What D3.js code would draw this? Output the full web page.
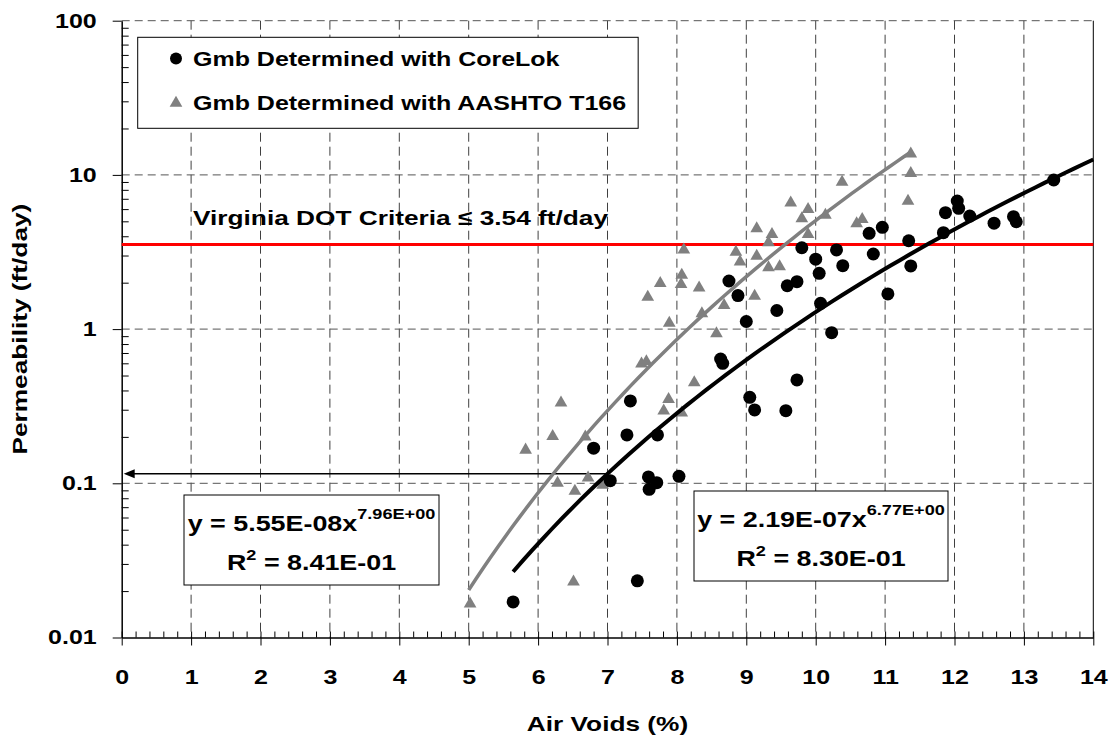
<!DOCTYPE html>
<html>
<head>
<meta charset="utf-8">
<script src="https://cdn.jsdelivr.net/npm/d3@7"></script>
<style>
  body { margin: 0; background: #fff; }
  svg { display: block; font-family: "Liberation Sans", Arial, sans-serif; font-weight: bold; }
</style>
</head>
<body>
<div id="chart"></div>
<script>
// CoreLok series (air voids %, permeability ft/day)
const corelokVoids = [5.64, 6.80, 7.04, 7.28, 7.33, 7.43, 7.59, 7.60, 7.71, 7.72, 8.03,
  8.63, 8.66, 8.75, 8.88, 9.00, 9.05, 9.12, 9.44, 9.57, 9.59, 9.73, 9.73, 9.80, 10.00,
  10.05, 10.07, 10.23, 10.30, 10.39, 10.77, 10.83, 10.96, 11.04, 11.34, 11.37, 11.84,
  11.87, 12.04, 12.06, 12.22, 12.57, 12.85, 12.89, 13.43];
const corelokPerm = [0.017, 0.169, 0.104, 0.206, 0.342, 0.0233, 0.110, 0.0914, 0.101, 0.206, 0.111,
  0.64, 0.60, 2.05, 1.65, 1.12, 0.361, 0.299, 1.32, 0.296, 1.91, 2.03, 0.468, 3.37, 2.84,
  2.30, 1.47, 0.948, 3.26, 2.58, 4.18, 3.07, 4.57, 1.69, 3.74, 2.57, 4.22,
  5.69, 6.77, 6.07, 5.41, 4.86, 5.36, 4.97, 9.27];

// AASHTO T166 series
const t166Voids = [5.02, 5.82, 6.21, 6.33, 6.28, 6.51, 6.53, 6.68, 6.72, 6.93, 7.49, 7.56,
  7.58, 7.76, 7.81, 7.88, 7.89, 8.06, 8.07, 8.07, 8.10, 8.25, 8.32, 8.36, 8.57, 8.68,
  8.85, 8.91, 9.12, 9.15, 9.15, 9.32, 9.32, 9.37, 9.48, 9.64, 9.80, 9.89, 9.89, 10.14,
  10.38, 10.59, 10.67, 11.33, 11.37, 11.37];
const t166Perm = [0.0168, 0.167, 0.205, 0.338, 0.102, 0.0233, 0.0905, 0.203, 0.110, 0.099, 0.605, 0.624,
  1.64, 2.01, 0.300, 0.356, 1.11, 1.98, 2.27, 0.291, 3.31, 0.456, 1.88, 1.28, 0.948, 1.45,
  3.21, 2.77, 1.66, 3.02, 4.55, 2.54, 3.69, 4.18, 2.58, 6.70, 5.28, 6.07, 4.18, 5.57,
  9.13, 4.90, 5.23, 6.87, 10.4, 13.9];

// power trendlines y = a * x^b, drawn over the range of each series
const corelokFit = { a: 2.19e-7, b: 6.77, from: 5.64, to: 14 };
const t166Fit = { a: 5.55e-8, b: 7.96, from: 5.0, to: 11.37 };

const criterion = 3.54;
const arrowVoids = 7;

const xTicks = d3.range(0, 15);
const yTicks = [0.01, 0.1, 1, 10, 100];
const yTickLabels = ["0.01", "0.1", "1", "10", "100"];

const S = 1.25; // horizontal text stretch of the original rendering
const W = 1114, H = 737;
const plot = { left: 121.7, right: 1093.3, top: 20.7, bottom: 637.5 };

const svg = d3.select("#chart").append("svg").attr("width", W).attr("height", H);
svg.append("rect").attr("width", W).attr("height", H).attr("fill", "#fff");

const x = d3.scaleLinear().domain([0, 14]).range([plot.left, plot.right]);
const y = d3.scaleLog().domain([0.01, 100]).range([plot.bottom, plot.top]);

function stext(parent, px, py, str, size, anchor) {
  const g = parent.append("g").attr("transform", `translate(${px},${py}) scale(${S},1)`);
  return g.append("text")
    .attr("text-anchor", anchor || "start")
    .style("font-size", size + "px")
    .text(str);
}

// gridlines
const grid = svg.append("g").attr("stroke", "#404040").attr("stroke-width", 1);
grid.selectAll(".vg")
  .data(xTicks.filter((d) => d > 0 && d < 14))
  .join("line")
  .attr("x1", (d) => x(d)).attr("x2", (d) => x(d))
  .attr("y1", plot.top).attr("y2", plot.bottom)
  .attr("stroke-dasharray", "9,5");
grid.selectAll(".hg")
  .data(yTicks.filter((d) => d > 0.01))
  .join("line")
  .attr("x1", plot.left).attr("x2", plot.right)
  .attr("y1", (d) => y(d)).attr("y2", (d) => y(d))
  .attr("stroke", "#555")
  .attr("stroke-dasharray", "8,5");
// right edge of plot area
svg.append("line")
  .attr("x1", plot.right).attr("x2", plot.right)
  .attr("y1", plot.top).attr("y2", plot.bottom)
  .attr("stroke", "#000");

// axes
const minorX = d3.range(0, 14.01, 0.2).filter((d) => Math.abs(d - Math.round(d)) > 0.01);
const minorY = [];
[0.01, 0.1, 1, 10].forEach((dec) => {
  for (let k = 2; k <= 9; k++) minorY.push(dec * k);
});

svg.append("g")
  .attr("transform", `translate(0,${plot.bottom})`)
  .call(d3.axisBottom(x).tickValues(minorX).tickSize(-6).tickFormat(""))
  .call((g) => g.select(".domain").remove());
const xAxis = svg.append("g")
  .attr("transform", `translate(0,${plot.bottom})`)
  .call(d3.axisBottom(x).tickValues(xTicks).tickSizeInner(8).tickSizeOuter(0).tickPadding(24));
xAxis.selectAll("line").attr("y1", -6);
xAxis.select(".domain").attr("stroke-width", 1.5);
xAxis.selectAll("text")
  .attr("transform", `scale(${S},1)`)
  .style("font-size", "20px")
  .attr("fill", "#000");

svg.append("g")
  .attr("transform", `translate(${plot.left},0)`)
  .call(d3.axisLeft(y).tickValues(minorY).tickSize(-7).tickFormat(""))
  .call((g) => g.select(".domain").remove());
const yAxis = svg.append("g")
  .attr("transform", `translate(${plot.left},0)`)
  .call(d3.axisLeft(y).tickValues(yTicks).tickSizeInner(9).tickSizeOuter(0)
    .tickFormat((d, i) => yTickLabels[i]));
yAxis.select(".domain").attr("stroke-width", 1.5);
yAxis.selectAll("text")
  .attr("x", -25 / S)
  .attr("transform", `scale(${S},1)`)
  .style("font-size", "20px")
  .attr("fill", "#000");
svg.selectAll(".tick text").style("font-family", "'Liberation Sans', Arial, sans-serif").style("font-weight", "bold");

// axis titles
stext(svg, (plot.left + plot.right) / 2, 731, "Air Voids (%)", 21, "middle");
svg.append("g")
  .attr("transform", `translate(27,${(plot.top + plot.bottom) / 2}) rotate(-90) scale(${S},1)`)
  .append("text")
  .attr("text-anchor", "middle")
  .style("font-size", "21px")
  .text("Permeability (ft/day)");

// criterion line
svg.append("line")
  .attr("x1", plot.left).attr("x2", plot.right)
  .attr("y1", y(criterion)).attr("y2", y(criterion))
  .attr("stroke", "#ff0000").attr("stroke-width", 3);
stext(svg, 193, y(criterion) - 19, "Virginia DOT Criteria \u2264 3.54 ft/day", 21);

// arrow from CoreLok trendline at 7 % voids to the permeability axis
const arrowY = y(corelokFit.a * Math.pow(arrowVoids, corelokFit.b));
svg.append("line")
  .attr("x1", x(arrowVoids)).attr("x2", plot.left + 10)
  .attr("y1", arrowY).attr("y2", arrowY)
  .attr("stroke", "#000").attr("stroke-width", 1.5);
svg.append("path")
  .attr("d", `M${plot.left + 2},${arrowY} l11,-4.5 l0,9 z`)
  .attr("fill", "#000");

// markers
const tri = d3.symbol().type(d3.symbolTriangle).size(70);
svg.append("g").selectAll("path")
  .data(t166Voids.map((v, i) => [v, t166Perm[i]]))
  .join("path")
  .attr("d", tri)
  .attr("transform", (d) => `translate(${x(d[0])},${y(d[1]) + 1})`)
  .attr("fill", "#808080");
svg.append("g").selectAll("circle")
  .data(corelokVoids.map((v, i) => [v, corelokPerm[i]]))
  .join("circle")
  .attr("cx", (d) => x(d[0]))
  .attr("cy", (d) => y(d[1]))
  .attr("r", 6.5)
  .attr("fill", "#000");

// trendlines
function fitPoints(f) {
  const n = 60;
  return d3.range(n + 1).map((i) => {
    const v = f.from + (f.to - f.from) * i / n;
    return [v, f.a * Math.pow(v, f.b)];
  });
}
const line = d3.line().x((d) => x(d[0])).y((d) => y(d[1]));
svg.append("path").attr("d", line(fitPoints(t166Fit)))
  .attr("fill", "none").attr("stroke", "#808080").attr("stroke-width", 3.5);
svg.append("path").attr("d", line(fitPoints(corelokFit)))
  .attr("fill", "none").attr("stroke", "#000").attr("stroke-width", 4);

// equation boxes
function eqBox(bx, by, bw, bh, coef, expo, r2) {
  svg.append("rect")
    .attr("x", bx).attr("y", by).attr("width", bw).attr("height", bh)
    .attr("fill", "#fff").attr("stroke", "#000").attr("stroke-width", 1);
  const cx = bx + bw / 2;
  const t1 = stext(svg, cx, by + 36, "", 21.5, "middle");
  t1.append("tspan").text(`y = ${coef}x`);
  t1.append("tspan").attr("dy", -12).style("font-size", "14.5px").text(expo);
  const t2 = stext(svg, cx, by + 75, "", 21.5, "middle");
  t2.append("tspan").text("R");
  t2.append("tspan").attr("dy", -10).style("font-size", "14.5px").text("2");
  t2.append("tspan").attr("dy", 10).text(` = ${r2}`);
}
eqBox(184, 495, 255, 90, "5.55E-08", "7.96E+00", "8.41E-01");
eqBox(694, 491, 254, 90, "2.19E-07", "6.77E+00", "8.30E-01");

// legend
const legend = svg.append("g");
const legendBox = legend.append("rect")
  .attr("x", 137.7).attr("y", 37.3).attr("height", 91)
  .attr("fill", "#fff").attr("stroke", "#000").attr("stroke-width", 1);
legend.append("circle").attr("cx", 176).attr("cy", 58.5).attr("r", 6).attr("fill", "#000");
legend.append("path").attr("d", tri).attr("transform", "translate(176,103)").attr("fill", "#808080");
const l1 = stext(legend, 193, 65.5, "Gmb Determined with CoreLok", 20);
const l2 = stext(legend, 193, 109.5, "Gmb Determined with AASHTO T166", 20);
const maxW = Math.max(l1.node().getBBox().width, l2.node().getBBox().width) * S;
legendBox.attr("width", 193 + maxW + 12 - 137.7);
</script>
</body>
</html>
